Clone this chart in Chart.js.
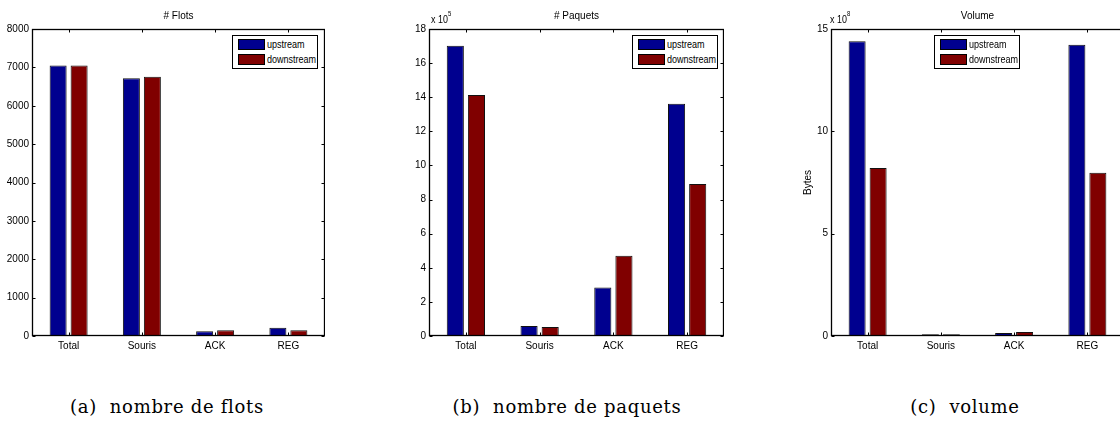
<!DOCTYPE html>
<html><head><meta charset="utf-8">
<script src="https://cdn.jsdelivr.net/npm/chart.js@4.4.1/dist/chart.umd.min.js"></script>
<style>
html,body{margin:0;padding:0;background:#fff;overflow:hidden;width:1120px;height:424px;}
body{position:relative;}
canvas{position:absolute;top:0;}
.sans{font-family:'Liberation Sans',Arial,Helvetica,sans-serif;color:#000;}
.leg{position:absolute;top:35px;width:86px;height:34px;border:1px solid #000;box-sizing:border-box;background:#fff;font-size:11px;}
.sw{position:absolute;left:5px;width:27px;height:11px;border:1px solid #000;box-sizing:border-box;}
.lt{position:absolute;left:34px;line-height:11px;white-space:nowrap;transform:scaleX(0.82);transform-origin:0 50%;}
.mult{position:absolute;top:14px;font-size:10.5px;line-height:10px;white-space:nowrap;transform:scaleX(0.85);transform-origin:0 50%;}
.mult sup{font-size:7px;vertical-align:top;position:relative;top:-5px;}
.cap{position:absolute;top:396px;width:300px;text-align:center;font-family:'DejaVu Serif','Liberation Serif',serif;font-size:18px;line-height:22px;letter-spacing:0.7px;color:#000;white-space:nowrap;}
</style>
</head><body>
<canvas id="c1" width="325" height="360" style="left:0px"></canvas>
<canvas id="c2" width="327" height="360" style="left:397px"></canvas>
<canvas id="c3" width="325" height="360" style="left:799px"></canvas>
<div class="mult sans" style="left:431px">x 10<sup>5</sup></div>
<div class="mult sans" style="left:830px">x 10<sup>8</sup></div>
<div id="legends"></div>
<div class="cap" style="left:17px">(a)&nbsp; nombre de flots</div>
<div class="cap" style="left:417px">(b)&nbsp; nombre de paquets</div>
<div class="cap" style="left:815px">(c)&nbsp; volume</div>
<script>
const categories = ['Total', 'Souris', 'ACK', 'REG'];
const seriesNames = ['upstream', 'downstream'];
const seriesColors = ['#00008f', '#800000'];

const flotsUp = [7050, 6715, 125, 215];
const flotsDown = [7050, 6757, 150, 150];

const paquetsUp = [1702000, 59000, 285000, 1362000];
const paquetsDown = [1413000, 53000, 471000, 891000];

const volumeUp = [1440000000, 8000000, 15000000, 1423000000];
const volumeDown = [821000000, 8000000, 20000000, 798000000];

const titles = ['# Flots', '# Paquets', 'Volume'];
const yMax = [8000, 1800000, 1500000000];
const yStep = [1000, 200000, 500000000];
const yDivisor = [1, 100000, 100000000];
const yAxisTitle = ['', '', 'Bytes'];

const FONT = "'Liberation Sans',Arial,Helvetica,sans-serif";

const boxPlugin = {
  id: 'mbox',
  afterDraw(chart) {
    const {ctx, chartArea: a, scales: {x, y}} = chart;
    ctx.save();
    ctx.strokeStyle = '#000';
    ctx.lineWidth = 1;
    const L = Math.round(a.left) + 0.5, R = Math.round(a.right) - 0.5;
    const T = Math.round(a.top) + 0.5, B = Math.round(a.bottom) - 0.5;
    ctx.beginPath();
    x.ticks.forEach((t, i) => {
      const px = Math.round(x.getPixelForTick(i)) + 0.5;
      ctx.moveTo(px, T); ctx.lineTo(px, T + 3);
      ctx.moveTo(px, B); ctx.lineTo(px, B - 3);
    });
    y.ticks.forEach((t, i) => {
      const py = Math.round(y.getPixelForTick(i)) + 0.5;
      ctx.moveTo(L, py); ctx.lineTo(L + 3, py);
      ctx.moveTo(R, py); ctx.lineTo(R - 3, py);
    });
    ctx.stroke();
    ctx.lineWidth = 1.3;
    ctx.strokeRect(L, T, R - L, B - T);
    ctx.restore();
  }
};

function makeChart(id, idx, up, down) {
  const div = yDivisor[idx];
  return new Chart(document.getElementById(id), {
    type: 'bar',
    data: {
      labels: categories,
      datasets: [
        {label: seriesNames[0], data: up, backgroundColor: seriesColors[0], borderColor: '#111', borderWidth: 1},
        {label: seriesNames[1], data: down, backgroundColor: seriesColors[1], borderColor: '#111', borderWidth: 1}
      ]
    },
    options: {
      responsive: false,
      animation: false,
      devicePixelRatio: 1,
      categoryPercentage: 0.573,
      barPercentage: 0.81,
      layout: {padding: 0},
      plugins: {
        legend: {display: false},
        tooltip: {enabled: false},
        title: {display: true, text: titles[idx], fullSize: false, color: '#000',
                font: {family: FONT, size: 10, weight: 'normal'}, padding: {top: 10, bottom: 7}}
      },
      scales: {
        x: {
          grid: {display: false, drawTicks: false, tickLength: 0}, border: {display: false},
          ticks: {color: '#000', font: {family: FONT, size: 10}, padding: 4, maxRotation: 0, autoSkip: false},
          afterFit(s) { s.height = 24; }
        },
        y: {
          min: 0, max: yMax[idx],
          grid: {display: false, drawTicks: false, tickLength: 0}, border: {display: false},
          ticks: {stepSize: yStep[idx], color: '#000', font: {family: FONT, size: 10}, padding: 3,
                  callback: v => String(Math.round(v / div))},
          title: {display: yAxisTitle[idx] !== '', text: yAxisTitle[idx], color: '#000',
                  font: {family: FONT, size: 10}, padding: {top: 3, bottom: 0}},
          afterFit(s) { s.width = 32; }
        }
      }
    },
    plugins: [boxPlugin]
  });
}

const charts = [
  makeChart('c1', 0, flotsUp, flotsDown),
  makeChart('c2', 1, paquetsUp, paquetsDown),
  makeChart('c3', 2, volumeUp, volumeDown)
];

const legendLefts = [232, 632, 934];
const legHost = document.getElementById('legends');
charts.forEach((ch, i) => {
  const box = document.createElement('div');
  box.className = 'leg sans';
  box.style.left = legendLefts[i] + 'px';
  ch.data.datasets.forEach((ds, j) => {
    const sw = document.createElement('div');
    sw.className = 'sw';
    sw.style.top = (3 + 15 * j) + 'px';
    sw.style.background = ds.backgroundColor;
    const t = document.createElement('div');
    t.className = 'lt';
    t.style.top = (3 + 15 * j) + 'px';
    t.textContent = ds.label;
    box.appendChild(sw); box.appendChild(t);
  });
  legHost.appendChild(box);
});
</script>
</body></html>
